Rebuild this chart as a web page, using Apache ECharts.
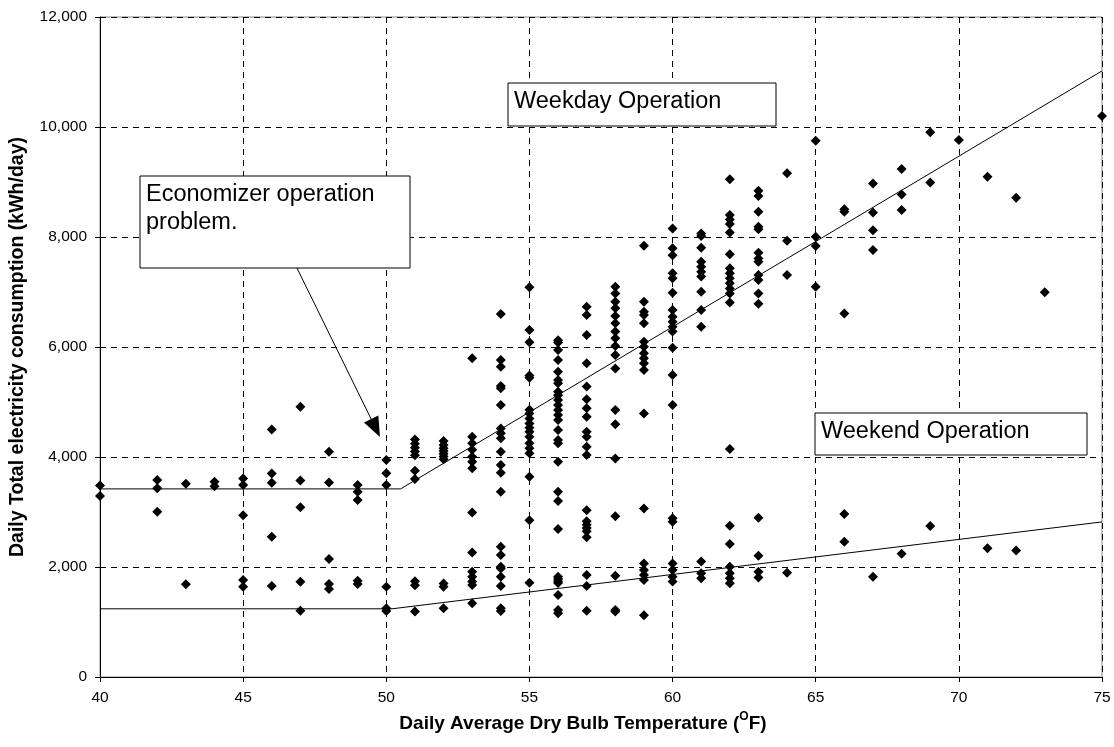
<!DOCTYPE html>
<html><head><meta charset="utf-8">
<script src="https://cdn.jsdelivr.net/npm/echarts@6/dist/echarts.min.js"></script>
<style>html,body{margin:0;padding:0;background:#fff}#c{width:1114px;height:747px}</style>
</head><body><div id="c"></div><script>
// Daily temperature (°F) columns and the daily kWh readings observed at each
const temperatures = [40, 42, 43, 44, 45, 46, 47, 48, 49, 50, 51, 52, 53, 54, 55, 56, 57, 58, 59, 60, 61, 62, 63, 64, 65, 66, 67, 68, 69, 70, 71, 72, 73, 75];
const consumption = [
  [3480, 3290],
  [3580, 3430, 3005],
  [3515, 1685],
  [3550, 3470],
  [3610, 3490, 2940, 1765, 1640],
  [4500, 3700, 3530, 2550, 1655],
  [4915, 3575, 3085, 1730, 1205],
  [4095, 3535, 2145, 1690, 1600],
  [3490, 3370, 3220, 1750, 1690],
  [3945, 3705, 3490, 1640, 1250, 1200],
  [4320, 4240, 4170, 4100, 4030, 3750, 3600, 1740, 1670, 1190],
  [4290, 4220, 4160, 4110, 4060, 4010, 3960, 1700, 1640, 1250],
  [5795, 4370, 4250, 4130, 4005, 3915, 3795, 2990, 2265, 1915, 1825, 1735, 1675, 1340],
  [6600, 5765, 5640, 5290, 5250, 4945, 4520, 4430, 4340, 4095, 3855, 3715, 3370, 2370, 2220, 2005, 1975, 1825, 1655, 1250, 1200],
  [7085, 6310, 6085, 5480, 5440, 4860, 4790, 4700, 4610, 4530, 4460, 4370, 4250, 4160, 4070, 3640, 2850, 1715],
  [6125, 6080, 5945, 5765, 5550, 5400, 5340, 5185, 5125, 5035, 4945, 4855, 4765, 4675, 4490, 4310, 4250, 3915, 3370, 3200, 2690, 1825, 1780, 1740, 1710, 1490, 1220, 1160],
  [6730, 6580, 6220, 5705, 5280, 5050, 4885, 4730, 4460, 4370, 4185, 4035, 3030, 2830, 2770, 2710, 2650, 2540, 1855, 1655, 1205],
  [7095, 6975, 6825, 6705, 6565, 6430, 6280, 6160, 6020, 5855, 5610, 4855, 4595, 3975, 2925, 1840, 1220, 1190],
  [7840, 6825, 6640, 6580, 6430, 6095, 6005, 5885, 5795, 5705, 5580, 4790, 3065, 2065, 1945, 1855, 1765, 1125],
  [8155, 7795, 7670, 7340, 7250, 6985, 6675, 6550, 6460, 6370, 6280, 5985, 5490, 4945, 2885, 2825, 2065, 1945, 1825, 1735],
  [8065, 8020, 7805, 7550, 7460, 7370, 7280, 7005, 6675, 6370, 2100, 1885, 1795],
  [9050, 8400, 8320, 8235, 8080, 7685, 7430, 7340, 7250, 7160, 7065, 6975, 6810, 4145, 2750, 2420, 2005, 1885, 1795, 1705],
  [8840, 8745, 8460, 8185, 8140, 7715, 7610, 7550, 7310, 7220, 6975, 6785, 2895, 2205, 1915, 1810],
  [9160, 7930, 7310, 1895],
  [9750, 8005, 7835, 7095],
  [8505, 8460, 6610, 2965, 2460],
  [8975, 8445, 8125, 7765, 1825],
  [9235, 8775, 8490, 2240],
  [9905, 8990, 2745],
  [9765],
  [9095, 2340],
  [8715, 2300],
  [6995],
  [10200]
];
// Change-point fit lines
const weekdayFitX = [40, 50.5, 75];
const weekdayFitY = [3420, 3420, 11020];
const weekendFitX = [40, 50.2, 75];
const weekendFitY = [1240, 1240, 2820];
// Annotation texts
const weekdayLabel = 'Weekday Operation';
const weekendLabel = 'Weekend Operation';
const economizerLabel = 'Economizer operation\nproblem.';
const arrowFrom = [46.88, 7436];
const arrowTo = [49.78, 4363];

const points = [];
temperatures.forEach((t, i) => consumption[i].forEach(v => points.push([t, v])));
const fitData = (xs, ys) => xs.map((x, i) => [x, ys[i]]);

const FONT = '"Liberation Sans", Arial, sans-serif';
const chart = echarts.init(document.getElementById('c'), null, {renderer: 'canvas'});
chart.setOption({
  animation: false,
  backgroundColor: '#fff',
  grid: {left: 100, right: 12, top: 17, bottom: 70, show: true, borderColor: '#888', borderWidth: 1},
  xAxis: {
    type: 'value', min: 40, max: 75, interval: 5,
    name: '{a|Daily Average Dry Bulb Temperature (}{s|O}{a|F)}',
    nameLocation: 'middle', nameGap: 27,
    nameTextStyle: {padding: [0, 36, 0, 0], rich: {
      a: {fontFamily: FONT, fontWeight: 'bold', fontSize: 19, color: '#000', verticalAlign: 'bottom', lineHeight: 22},
      s: {fontFamily: FONT, fontWeight: 'bold', fontSize: 12, color: '#000', verticalAlign: 'top', lineHeight: 22, padding: [0, 0, 9, 0]}
    }},
    axisLine: {show: true, lineStyle: {color: '#000', width: 1}},
    axisTick: {show: true, inside: false, length: 5, lineStyle: {color: '#000'}},
    axisLabel: {fontFamily: FONT, fontSize: 15.5, color: '#000', margin: 13},
    splitLine: {show: true, lineStyle: {color: '#000', type: [6, 5], width: 1}}
  },
  yAxis: {
    type: 'value', min: 0, max: 12000, interval: 2000,
    name: 'Daily Total electricity consumption (kWh/day)',
    nameLocation: 'middle', nameGap: 72,
    nameTextStyle: {fontFamily: FONT, fontWeight: 'bold', fontSize: 19.5, color: '#000'},
    axisLine: {show: true, lineStyle: {color: '#000', width: 1}},
    axisTick: {show: true, inside: false, length: 5, lineStyle: {color: '#000'}},
    axisLabel: {fontFamily: FONT, fontSize: 15.5, color: '#000', margin: 13,
      formatter: v => v.toLocaleString('en-US')},
    splitLine: {show: true, lineStyle: {color: '#000', type: [6, 5], width: 1}}
  },
  series: [
    {type: 'line', data: fitData(weekdayFitX, weekdayFitY), showSymbol: false, symbol: 'none',
      lineStyle: {color: '#000', width: 1}, z: 3},
    {type: 'line', data: fitData(weekendFitX, weekendFitY), showSymbol: false, symbol: 'none',
      lineStyle: {color: '#000', width: 1}, z: 3},
    {type: 'scatter', data: points, symbol: 'diamond', symbolSize: 10,
      itemStyle: {color: '#000', opacity: 1}, z: 4}
  ]
});

function box(x, y, w, h, text) {
  return {
    type: 'group', z: 10, children: [
      {type: 'rect', shape: {x: x, y: y, width: w, height: h}, style: {fill: '#fff', stroke: '#000', lineWidth: 1}},
      {type: 'text', x: x + 6, y: y + 5, style: {text: text, font: '23.5px ' + FONT, fill: '#000', lineHeight: 28}}
    ]
  };
}
const p0 = chart.convertToPixel({gridIndex: 0}, arrowFrom);
const p1 = chart.convertToPixel({gridIndex: 0}, arrowTo);
const ang = Math.atan2(p1[1] - p0[1], p1[0] - p0[0]);
const headLen = 20, headW = 8;
const bx = p1[0] - headLen * Math.cos(ang), by = p1[1] - headLen * Math.sin(ang);
const nx = -Math.sin(ang), ny = Math.cos(ang);
chart.setOption({
  graphic: [
    box(508, 83, 268, 43, weekdayLabel),
    box(815, 413, 272, 42, weekendLabel),
    box(140, 176, 270, 92, economizerLabel),
    {type: 'line', z: 11, shape: {x1: p0[0], y1: p0[1], x2: bx, y2: by}, style: {stroke: '#000', lineWidth: 1}},
    {type: 'polygon', z: 11, shape: {points: [[p1[0], p1[1]], [bx + nx * headW, by + ny * headW], [bx - nx * headW, by - ny * headW]]},
      style: {fill: '#000'}}
  ]
});
</script></body></html>
